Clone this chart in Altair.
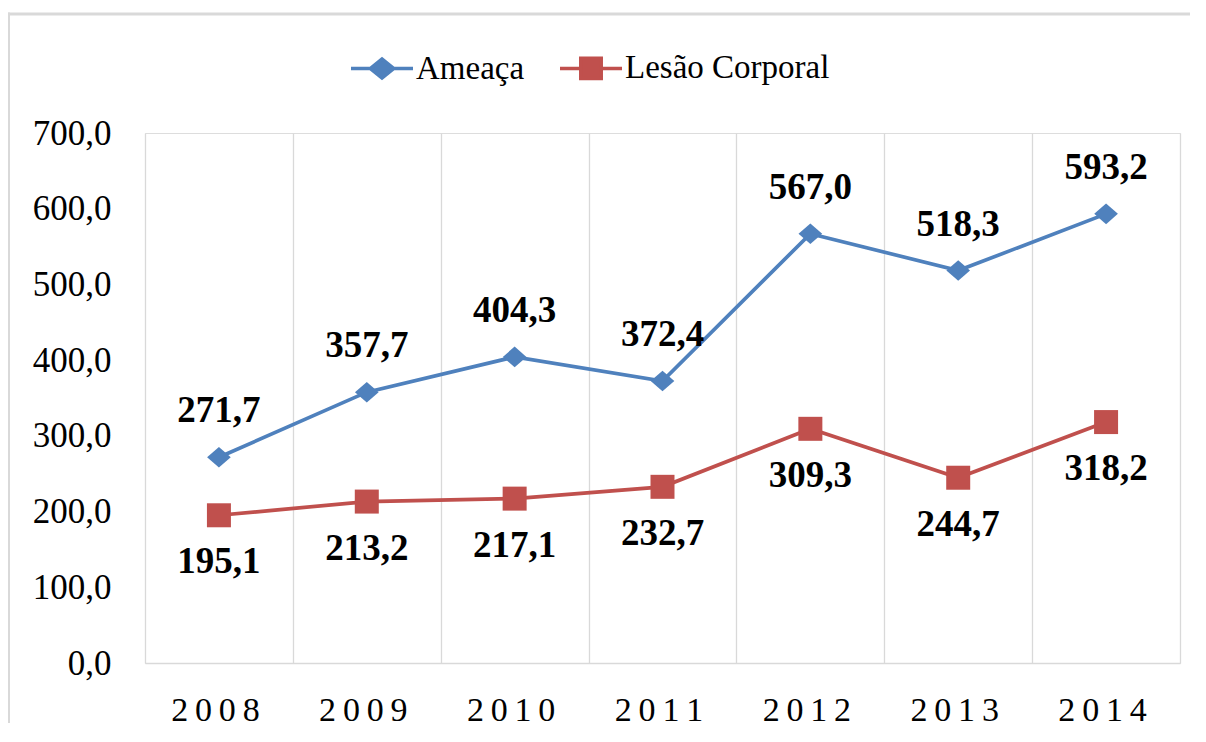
import altair as alt
import pandas as pd

years = ["2008", "2009", "2010", "2011", "2012", "2013", "2014"]
ameaca = [271.7, 357.7, 404.3, 372.4, 567.0, 518.3, 593.2]
lesao = [195.1, 213.2, 217.1, 232.7, 309.3, 244.7, 318.2]
series_names = ["Ameaça", "Lesão Corporal"]
colors = ["#4F81BD", "#C0504D"]
y_ticks = [0, 100, 200, 300, 400, 500, 600, 700]

rows = []
for name, vals in zip(series_names, [ameaca, lesao]):
    for yr, v in zip(years, vals):
        rows.append({"year": yr, "series": name, "value": v})
df = pd.DataFrame(rows)

FONT = "Liberation Serif"
THIN = "\u2009"

cscale = alt.Scale(domain=series_names, range=colors)

legend_diamond = "M-1,0L-0.38,0M-0.38,0L0,-0.31L0.38,0L0,0.31ZM0.38,0L1,0"
legend_square = "M-1,0L-0.33,0M-0.33,-0.33L0.33,-0.33L0.33,0.33L-0.33,0.33ZM0.33,0L1,0"
point_diamond = "M-1,0L0,-0.87L1,0L0,0.87Z"

x_enc = alt.X("year:N", sort=years, title=None,
              scale=alt.Scale(paddingInner=0, paddingOuter=0),
              axis=alt.Axis(tickBand="extent", grid=True, gridColor="#d9d9d9", gridWidth=1.3,
                            ticks=False, domain=True, domainColor="#d9d9d9", domainWidth=1.6,
                            labelFont=FONT, labelFontSize=34, labelColor="#000000",
                            labelAngle=0, labelPadding=30, labelOffset=-4,
                            labelExpr="join(split(datum.label, ''), '" + THIN + "')"))
y_enc = alt.Y("value:Q", title=None,
              scale=alt.Scale(domain=[0, 700], nice=False, zero=True),
              axis=alt.Axis(values=y_ticks, grid=False, domain=False, ticks=False,
                            labelFont=FONT, labelFontSize=35, labelColor="#000000",
                            labelPadding=34,
                            labelExpr="replace(format(datum.value, '.1f'), '.', ',')"))

base = alt.Chart(df)

leg = alt.Legend(title=None, orient="none", legendX=204, legendY=-98, direction="horizontal",
                 labelFont=FONT, labelFontSize=33, labelColor="#000000", labelLimit=0,
                 symbolSize=3844, symbolStrokeWidth=3.5, labelOffset=1, columnPadding=28,
                 padding=0, symbolOpacity=1)

legend_layer = base.mark_point(filled=True, opacity=0).encode(
    x=x_enc, y=y_enc,
    color=alt.Color("series:N", scale=cscale, legend=leg),
    stroke=alt.Stroke("series:N", scale=cscale, legend=leg),
    shape=alt.Shape("series:N", scale=alt.Scale(domain=series_names,
                                               range=[legend_diamond, legend_square]),
                    legend=leg),
)

lines = base.mark_line(strokeWidth=3.7).encode(
    x=x_enc, y=y_enc,
    color=alt.Color("series:N", scale=cscale, legend=None),
    detail="series:N",
)

pts_a = base.transform_filter(alt.datum.series == "Ameaça").mark_point(
    filled=True, opacity=1, size=560, shape=point_diamond).encode(
    x=x_enc, y=y_enc, color=alt.Color("series:N", scale=cscale, legend=None))

pts_l = base.transform_filter(alt.datum.series == "Lesão Corporal").mark_point(
    filled=True, opacity=1, size=576, shape="square").encode(
    x=x_enc, y=y_enc, color=alt.Color("series:N", scale=cscale, legend=None))

lab = base.transform_calculate(lab="replace(format(datum.value, '.1f'), '.', ',')")

labels_a = lab.transform_filter(alt.datum.series == "Ameaça").mark_text(
    font=FONT, fontSize=37, fontWeight="bold", color="#000000", dy=-46, baseline="middle").encode(
    x=x_enc, y=y_enc, text="lab:N")
labels_l = lab.transform_filter(alt.datum.series == "Lesão Corporal").mark_text(
    font=FONT, fontSize=37, fontWeight="bold", color="#000000", dy=47, baseline="middle").encode(
    x=x_enc, y=y_enc, text="lab:N")

one = alt.Chart(pd.DataFrame({"a": [0]}))
frame_top = one.mark_rule(stroke="#d9d9d9", strokeWidth=3).encode(
    x=alt.value(-138), x2=alt.value(1045), y=alt.value(-119), y2=alt.value(-119))
frame_left = one.mark_rule(stroke="#d9d9d9", strokeWidth=3).encode(
    x=alt.value(-136.5), x2=alt.value(-136.5), y=alt.value(-120.5), y2=alt.value(590))

chart = alt.layer(legend_layer, frame_top, frame_left, lines, pts_a, pts_l, labels_a, labels_l).properties(
    width=1035, height=530,
    autosize=alt.AutoSizeParams(type="none"),
    padding={"left": 137, "top": 125, "right": 14, "bottom": 65},
).configure_view(stroke=None).configure_legend(
    labelFont=FONT, labelFontSize=33, labelLimit=0, labelColor="#000000"
).configure(background="#ffffff")

chart.save("out.html", embed_options={"renderer": "svg", "actions": False})
